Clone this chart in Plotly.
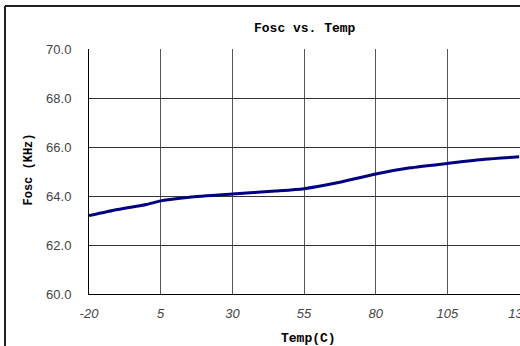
import plotly.graph_objects as go

temp_c = [-20, -10, 0, 5, 15, 30, 45, 55, 67, 80, 92, 105, 118, 130]
fosc_khz = [63.2, 63.45, 63.65, 63.8, 63.95, 64.08, 64.2, 64.3, 64.55, 64.9, 65.15, 65.33, 65.5, 65.6]

x_ticks = [-20, 5, 30, 55, 80, 105, 130]
y_ticks = [60, 62, 64, 66, 68, 70]

W, H = 520, 346
L, R, T, B = 89, 0, 49, 52
pw = W - L - R
ph = H - T - B

def px(xp):
    return (xp - L) / pw

def py(yp):
    return (H - B - yp) / ph

fig = go.Figure()
fig.add_trace(go.Scatter(
    x=temp_c, y=fosc_khz, mode="lines",
    line=dict(color="#000080", width=3, shape="spline", smoothing=0.6),
    hoverinfo="skip", showlegend=False,
))

mono = "Liberation Mono"
fig.update_layout(
    width=W, height=H,
    margin=dict(l=L, r=R, t=T, b=B, autoexpand=False),
    paper_bgcolor="white", plot_bgcolor="white",
    showlegend=False,
    xaxis=dict(
        range=[-20, 130.3], tickvals=x_ticks, ticktext=[str(v) for v in x_ticks],
        showgrid=True, gridcolor="#555", gridwidth=1,
        showline=True, linecolor="black", linewidth=1,
        zeroline=False, ticks="", ticklabelstandoff=7,
        ticklabeloverflow="allow",
        tickfont=dict(family="Liberation Sans", size=13, color="#444", style="italic"),
        fixedrange=True,
    ),
    yaxis=dict(
        range=[60, 70], tickvals=y_ticks, tickformat=".1f",
        showgrid=True, gridcolor="#333", gridwidth=1,
        showline=True, linecolor="black", linewidth=1,
        zeroline=False, ticks="", ticklabelstandoff=14,
        tickfont=dict(family="Liberation Sans", size=13, color="#444"),
        fixedrange=True,
    ),
    annotations=[
        dict(text="<b>Fosc vs. Temp</b>", x=px(305), y=py(29), xref="paper", yref="paper",
             showarrow=False, xanchor="center", yanchor="middle",
             font=dict(family=mono, size=13, color="black")),
        dict(text="<b>Temp(C)</b>", x=px(308), y=py(338), xref="paper", yref="paper",
             showarrow=False, xanchor="center", yanchor="middle",
             font=dict(family=mono, size=13, color="black")),
        dict(text="<b>Fosc (KHz)</b>", x=px(28.5), y=py(170), xref="paper", yref="paper",
             showarrow=False, xanchor="center", yanchor="middle", textangle=-90,
             font=dict(family=mono, size=12, color="black")),
    ],
    shapes=[
        dict(type="line", xref="paper", yref="paper", x0=px(5), x1=px(530), y0=py(6), y1=py(6),
             line=dict(color="#222", width=2)),
        dict(type="line", xref="paper", yref="paper", x0=px(5), x1=px(5), y0=py(6), y1=py(360),
             line=dict(color="#222", width=2)),
    ],
)

fig.write_html("out.html")
